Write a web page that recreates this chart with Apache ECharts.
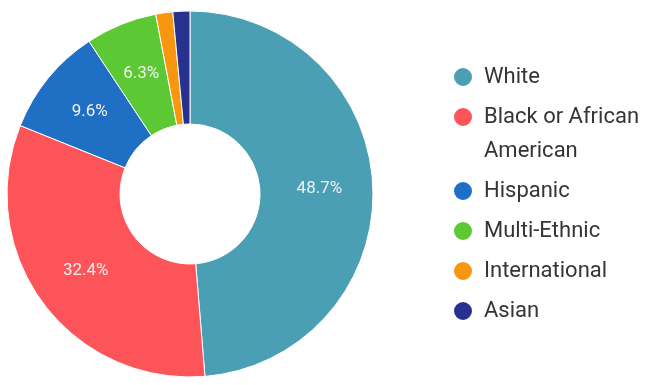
<!DOCTYPE html>
<html>
<head>
<meta charset="utf-8">
<script src="https://cdn.jsdelivr.net/npm/echarts@6/dist/echarts.min.js"></script>
<style>
  html, body { margin: 0; padding: 0; background: #ffffff; }
  #chart { width: 648px; height: 385px; }
</style>
</head>
<body>
<div id="chart"></div>
<script>
// Student enrollment by race / ethnicity (percent)
const categories = ['White', 'Black or African American', 'Hispanic', 'Multi-Ethnic', 'International', 'Asian'];
const shares = [48.7, 32.4, 9.6, 6.3, 1.5, 1.5];
const legendText = ['White', 'Black or African\nAmerican', 'Hispanic', 'Multi-Ethnic', 'International', 'Asian'];
const palette = ['#4a9fb4', '#fc5458', '#1f6fc5', '#5cc934', '#f8960f', '#27328e'];

// vertical centre of each legend marker
const legendCenters = [77, 117, 191, 231, 271, 311];
const FONT = 'Roboto, "Noto Sans", sans-serif';
const LINE_SINGLE = 24;
const LINE_MULTI = 34;
const ICON = 20;

const legends = categories.map((name, i) => {
  const lines = legendText[i].split('\n');
  const multi = lines.length > 1;
  // a blank leading line keeps the marker level with the first line of a wrapped entry
  const shown = multi ? '\n' + legendText[i] : legendText[i];
  const boxHalf = multi ? (LINE_MULTI * (lines.length + 1)) / 2 : LINE_SINGLE / 2;
  return {
    data: [name],
    orient: 'vertical',
    left: 452,
    top: legendCenters[i] - boxHalf,
    padding: 0,
    icon: 'circle',
    itemWidth: ICON,
    itemHeight: ICON,
    selectedMode: false,
    formatter: () => shown,
    textStyle: {
      color: '#353535',
      fontFamily: FONT,
      fontSize: 22,
      lineHeight: multi ? LINE_MULTI : LINE_SINGLE,
      padding: [0, 0, 0, 6]
    }
  };
});

const chart = echarts.init(document.getElementById('chart'), null, { renderer: 'canvas' });
chart.setOption({
  animation: false,
  backgroundColor: '#ffffff',
  color: palette,
  legend: legends,
  series: [{
    type: 'pie',
    center: [190, 194],
    radius: [70, 183],
    startAngle: 90,
    clockwise: true,
    avoidLabelOverlap: false,
    itemStyle: { borderColor: '#ffffff', borderWidth: 1 },
    label: {
      show: true,
      position: 'inside',
      color: '#f0f0f0',
      fontFamily: FONT,
      fontSize: 17,
      formatter: (p) => (p.value >= 5 ? p.value.toFixed(1) + '%' : '')
    },
    labelLine: { show: false },
    emphasis: { disabled: true },
    data: categories.map((name, i) => ({ name: name, value: shares[i] }))
  }]
});
</script>
</body>
</html>
